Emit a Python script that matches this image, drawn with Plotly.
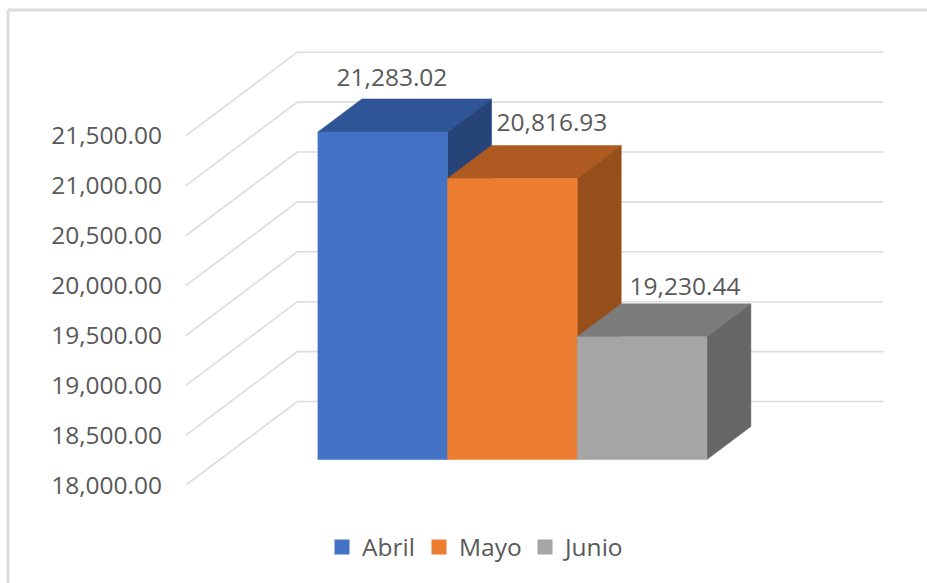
import plotly.graph_objects as go

# --- data ---
months = ["Abril", "Mayo", "Junio"]
values = [21283.02, 20816.93, 19230.44]
axis_ticks = [18000, 18500, 19000, 19500, 20000, 20500, 21000, 21500]

# --- style ---
front_colors = ["#4472C4", "#ED7D31", "#A5A5A5"]
top_colors = ["#2F5597", "#AE5A21", "#7C7C7C"]
side_colors = ["#264478", "#964F1A", "#666666"]
GRID = "#DCDCDC"
TEXT = "#595959"
FONT = "Open Sans"
FS = 24.5

W, H = 927, 583
PX_PER_CAT = 129.67      # width of one column on screen
PX_PER_VAL = 0.0998      # pixels per value unit
CAT0_PX = 284            # screen x of category 0 on the front floor edge
BASE_PX = 485            # screen y of axis minimum on the front floor edge
BASE = axis_ticks[0]

# oblique projection: one depth unit moves the point right and up
DEPTH_X = 44 / PX_PER_CAT
DEPTH_Y = 33 / PX_PER_VAL
BAR_FRONT = 0.77
BAR_BACK = BAR_FRONT + 1.0
WALL = 2.53
GRID_LEFT = -0.756
GRID_RIGHT = 3.763


def proj(cat, val, depth):
    return cat + depth * DEPTH_X, val + depth * DEPTH_Y


def poly(points):
    xs, ys = zip(*[proj(*p) for p in points])
    return list(xs) + [xs[0]], list(ys) + [ys[0]]


fig = go.Figure()

# gridlines: floor-to-wall diagonal, then across the back wall
for t in axis_ticks:
    pts = [proj(GRID_LEFT, t, 0), proj(GRID_LEFT, t, WALL), proj(GRID_RIGHT, t, WALL)]
    fig.add_trace(go.Scatter(x=[p[0] for p in pts], y=[p[1] for p in pts], mode="lines",
                             line=dict(color=GRID, width=1.6), showlegend=False, hoverinfo="skip"))

# 3D columns
for i, v in enumerate(values):
    l, r = i, i + 1
    faces = [
        ([(l, v, BAR_FRONT), (r, v, BAR_FRONT), (r, v, BAR_BACK), (l, v, BAR_BACK)], top_colors[i]),
        ([(r, BASE, BAR_FRONT), (r, v, BAR_FRONT), (r, v, BAR_BACK), (r, BASE, BAR_BACK)], side_colors[i]),
        ([(l, BASE, BAR_FRONT), (r, BASE, BAR_FRONT), (r, v, BAR_FRONT), (l, v, BAR_FRONT)], front_colors[i]),
    ]
    for pts, col in faces:
        xs, ys = poly(pts)
        fig.add_trace(go.Scatter(x=xs, y=ys, mode="lines", fill="toself", fillcolor=col,
                                 line=dict(color=col, width=0.5), showlegend=False, hoverinfo="skip"))

# data labels, placed just above the back edge of each column top
label_cat_shift = [-0.268, -0.034, -0.008]
label_val_shift = [190, 205, 150]
for i, v in enumerate(values):
    x, y = proj(i + 0.5 + label_cat_shift[i], v + label_val_shift[i], BAR_BACK)
    fig.add_trace(go.Scatter(x=[x], y=[y], mode="text", text=[f"{v:,.2f}"],
                             textposition="middle center",
                             textfont=dict(family=FONT, size=FS, color=TEXT),
                             showlegend=False, hoverinfo="skip"))

# legend entries, one legend box per entry to keep their spacing tight
legend_names = ["legend", "legend2", "legend3"]
legend_left_px = [322, 419, 525]
layout_legends = {}
for i, m in enumerate(months):
    fig.add_trace(go.Scatter(x=[None], y=[None], mode="markers", name=m,
                             marker=dict(symbol="square", size=15, color=front_colors[i]),
                             legend=legend_names[i]))
    layout_legends[legend_names[i]] = dict(
        x=legend_left_px[i] / W, y=1 - 547 / H, xanchor="left", yanchor="middle",
        orientation="h", bgcolor="rgba(0,0,0,0)", font=dict(family=FONT, size=FS, color=TEXT),
    )

fig.update_layout(
    width=W, height=H,
    margin=dict(l=0, r=0, t=0, b=0),
    paper_bgcolor="white", plot_bgcolor="white",
    hovermode=False,
    xaxis=dict(visible=False, domain=[0, 1],
               range=[-CAT0_PX / PX_PER_CAT, (W - CAT0_PX) / PX_PER_CAT]),
    yaxis=dict(anchor="free", position=162 / W, showgrid=False, zeroline=False, showline=False,
               ticks="", tickmode="array", tickvals=axis_ticks, tickformat=",.2f",
               tickfont=dict(family=FONT, size=FS, color=TEXT),
               range=[BASE - (H - BASE_PX) / PX_PER_VAL, BASE + BASE_PX / PX_PER_VAL]),
    shapes=[
        dict(type="line", xref="paper", yref="paper", x0=8 / W, x1=1, y0=1 - 10 / H, y1=1 - 10 / H,
             line=dict(color=GRID, width=3)),
        dict(type="line", xref="paper", yref="paper", x0=8 / W, x1=8 / W, y0=0, y1=1 - 10 / H,
             line=dict(color=GRID, width=3)),
    ],
    **layout_legends,
)

# the page must start at the window's corner so the figure fills the 927x583 window
fig.write_html("out.html", config={"displayModeBar": False},
               post_script="document.body.style.margin='0';")
